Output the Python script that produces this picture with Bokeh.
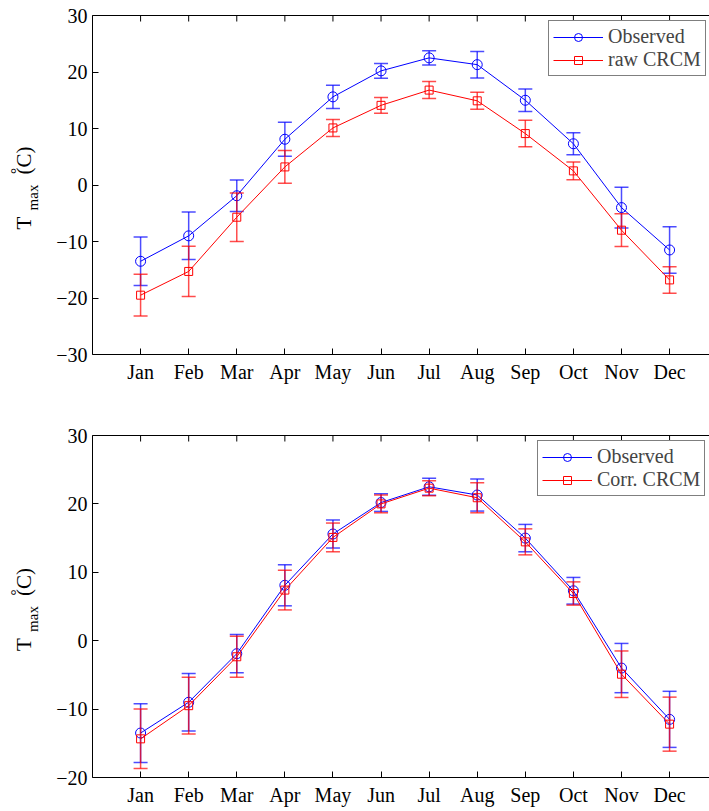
import math
from bokeh.plotting import figure
from bokeh.models import Range1d, FixedTicker, LinearAxis, Legend, LegendItem, ColumnDataSource
from bokeh.layouts import column, row
from bokeh.core.properties import value
from bokeh.embed import file_html
from bokeh.resources import INLINE

months = ["Jan", "Feb", "Mar", "Apr", "May", "Jun", "Jul", "Aug", "Sep", "Oct", "Nov", "Dec"]
month_idx = list(range(1, 13))

obs_mean = [-13.5, -9.0, -1.9, 8.1, 15.6, 20.2, 22.5, 21.3, 15.0, 7.3, -4.0, -11.5]
obs_err = [4.3, 4.2, 2.8, 3.0, 2.05, 1.3, 1.25, 2.35, 2.0, 1.95, 3.6, 4.1]

raw_mean = [-19.5, -15.3, -5.7, 3.2, 10.1, 14.1, 16.8, 14.9, 9.1, 2.5, -8.0, -16.8]
raw_err = [3.7, 4.45, 4.3, 2.9, 1.5, 1.4, 1.5, 1.5, 2.35, 1.55, 2.9, 2.35]

corr_mean = [-14.35, -9.5, -2.35, 7.4, 15.1, 20.0, 22.3, 20.9, 14.45, 6.9, -4.9, -12.2]
corr_err = [4.35, 4.15, 3.0, 2.9, 2.1, 1.3, 1.1, 2.2, 1.9, 1.7, 3.4, 3.95]

top_yticks = [-30, -20, -10, 0, 10, 20, 30]
bot_yticks = [-20, -10, 0, 10, 20, 30]

FONT = "Liberation Serif"
BLUE = "#0000ff"
RED = "#ff0000"

W = 709
LW = 46            # width of the side strip holding the y label
LEFT = 92          # frame left edge in page pixels
X_END = 12.83
PX_PER_X = (W - LEFT) / X_END
CAP_HALF = 7.0 / PX_PER_X


def minus(v):
    return str(v).replace("-", "\u2212")


def add_series(p, xs, mean, err, color, marker, size):
    lo = [m - e for m, e in zip(mean, err)]
    hi = [m + e for m, e in zip(mean, err)]
    src = ColumnDataSource(dict(
        x=xs, y=mean, lo=lo, hi=hi,
        xl=[x - CAP_HALF for x in xs], xr=[x + CAP_HALF for x in xs],
    ))
    p.segment("x", "lo", "x", "hi", source=src, line_color=color, line_alpha=0.7, line_width=1.5)
    p.segment("xl", "lo", "xr", "lo", source=src, line_color=color, line_alpha=0.7, line_width=1.5)
    p.segment("xl", "hi", "xr", "hi", source=src, line_color=color, line_alpha=0.7, line_width=1.5)
    ln = p.line("x", "y", source=src, line_color=color, line_width=1)
    sc = p.scatter("x", "y", source=src, marker=marker, size=size, line_color=color,
                   fill_color=None, line_width=1)
    return [ln, sc]


def label_strip(height, b_top, b_bot):
    frame_h = height - b_top - b_bot
    s = figure(width=LW, height=height, output_backend="svg", toolbar_location=None,
               x_range=Range1d(0, LW), y_range=Range1d(0, frame_h),
               x_axis_type=None, y_axis_type=None,
               min_border_left=0, min_border_right=0, min_border_top=b_top,
               min_border_bottom=b_bot)
    s.outline_line_color = None
    s.grid.visible = False
    cy = b_top + frame_h / 2.0
    base = b_top + frame_h   # page y of frame bottom
    # (text, page-x, page-y, size)
    parts = [("T", 23.5, cy + 38, "21px"),
             ("max", 32.0, cy + 12.5, "15px"),
             ("(C)", 23.5, cy - 24.5, "21px"),
             ("\u00b0", 15.0, cy - 14, "15px")]
    src = ColumnDataSource(dict(
        x=[pp[1] for pp in parts],
        y=[base - pp[2] for pp in parts],
        t=[pp[0] for pp in parts],
        fs=[pp[3] for pp in parts],
    ))
    s.text("x", "y", text="t", source=src, angle=math.pi / 2, text_align="center",
           text_baseline="middle", text_font=value(FONT), text_font_size="fs",
           text_color="black")
    return s


def make_panel(height, b_top, b_bot, ymin, ymax, yticks, series2, label2, leg_loc):
    p = figure(width=W - LW, height=height, output_backend="svg", toolbar_location=None,
               x_range=Range1d(0, X_END), y_range=Range1d(ymin, ymax),
               min_border_left=LEFT - LW, min_border_right=0, min_border_top=b_top,
               min_border_bottom=b_bot)
    p.outline_line_color = None
    p.grid.visible = False

    xa = p.xaxis[0]
    xa.ticker = FixedTicker(ticks=month_idx)
    xa.major_label_overrides = {i: m for i, m in zip(month_idx, months)}
    ya = p.yaxis[0]
    ya.ticker = FixedTicker(ticks=yticks)
    ya.major_label_overrides = {t: minus(t) for t in yticks}
    for ax in (xa, ya):
        ax.major_tick_in = 6
        ax.major_tick_out = 0
        ax.minor_tick_line_color = None
        ax.axis_line_color = "black"
        ax.axis_line_width = 1
        ax.major_tick_line_color = "black"
        ax.major_label_text_font = FONT
        ax.major_label_text_font_size = "20px"
        ax.major_label_text_color = "black"
    xa.major_label_standoff = 6
    ya.major_label_standoff = 5

    # top border (no ticks/labels) plus inward tick marks at the months
    top = LinearAxis(ticker=FixedTicker(ticks=[]), major_tick_in=0, major_tick_out=0,
                     minor_tick_line_color=None, axis_line_color="black")
    p.add_layout(top, "above")
    frame_h = height - b_top - b_bot
    tick_len = 6.0 * (ymax - ymin) / frame_h
    p.segment(x0=month_idx, y0=[ymax] * 12, x1=month_idx, y1=[ymax - tick_len] * 12,
              line_color="black", line_width=1)

    obs_r = add_series(p, month_idx, obs_mean, obs_err, BLUE, "circle", 10)
    s2_r = add_series(p, month_idx, series2[0], series2[1], RED, "square", 8)

    legend = Legend(items=[LegendItem(label="Observed", renderers=obs_r),
                           LegendItem(label=label2, renderers=s2_r)],
                    location=leg_loc, label_text_font=FONT, label_text_font_size="20px",
                    glyph_width=50, glyph_height=20, label_height=20, label_standoff=5,
                    spacing=0, padding=4, margin=0, border_line_color="black",
                    border_line_width=1, background_fill_alpha=1.0)
    p.add_layout(legend, "center")
    return row(label_strip(height, b_top, b_bot), p, spacing=0)


p1 = make_panel(410, 15, 56, -30, 30, top_yticks, (raw_mean, raw_err), "raw CRCM", (456, 278))
p2 = make_panel(401, 25, 34, -20, 30, bot_yticks, (corr_mean, corr_err), "Corr. CRCM", (445, 281))

layout = column(p1, p2, spacing=0)
open("out.html", "w").write(file_html(layout, INLINE))
